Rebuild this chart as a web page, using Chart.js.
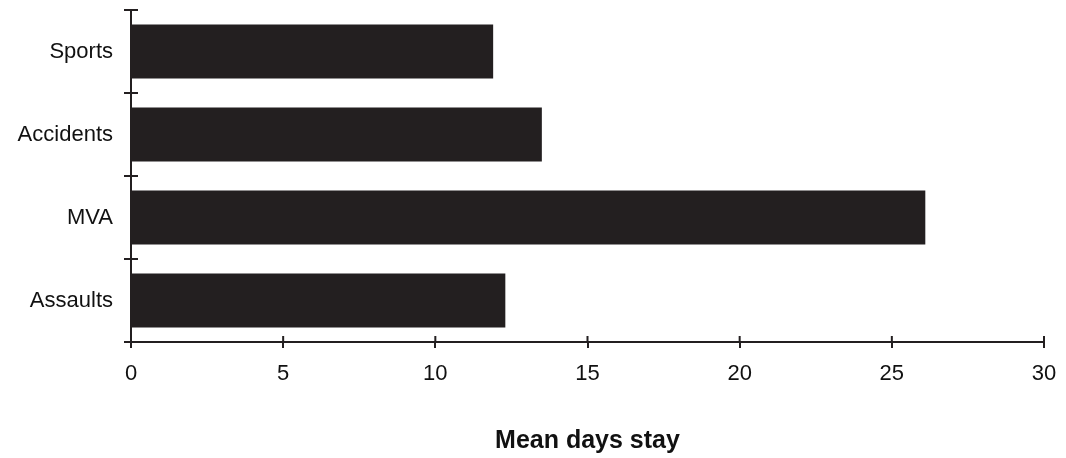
<!DOCTYPE html>
<html lang="en">
<head>
    <meta charset="UTF-8">
    <title>Mean days stay</title>
    <style>
        body {
            margin: 0;
            padding: 0;
            background: #ffffff;
        }
        .chart-box {
            width: 1066px;
            height: 458px;
        }
    </style>
    <script src="https://cdn.jsdelivr.net/npm/chart.js"></script>
</head>
<body>
    <div class="chart-box">
        <canvas id="stayChart"></canvas>
    </div>

    <script>
        // data
        const categories = ['Sports', 'Accidents', 'MVA', 'Assaults'];
        const meanDays = [11.9, 13.5, 26.1, 12.3];
        const xTicks = [0, 5, 10, 15, 20, 25, 30];

        const ink = '#231f20';
        const fontFam = 'Liberation Sans, Arial, sans-serif';

        // ticks in the original cross the axis line, so draw the inner half too
        const crossTicks = {
            id: 'crossTicks',
            afterDraw(chart) {
                const ctx = chart.ctx;
                const x = chart.scales.x;
                const y = chart.scales.y;
                ctx.save();
                ctx.strokeStyle = ink;
                ctx.lineWidth = 2;
                ctx.beginPath();
                xTicks.forEach(v => {
                    const px = x.getPixelForValue(v);
                    ctx.moveTo(px, x.top);
                    ctx.lineTo(px, x.top - 6);
                });
                for (let i = 0; i <= categories.length; i++) {
                    const py = y.getPixelForValue(i - 0.5);
                    ctx.moveTo(y.right, py);
                    ctx.lineTo(y.right + 7, py);
                }
                ctx.stroke();
                ctx.restore();
            }
        };

        const ctx = document.getElementById('stayChart').getContext('2d');
        new Chart(ctx, {
            type: 'bar',
            data: {
                labels: categories,
                datasets: [{
                    data: meanDays,
                    backgroundColor: ink,
                    borderWidth: 0,
                    barPercentage: 0.8,
                    categoryPercentage: 0.81
                }]
            },
            options: {
                indexAxis: 'y',
                responsive: true,
                maintainAspectRatio: false,
                animation: false,
                layout: {
                    padding: { top: 10, right: 22, left: 0, bottom: 0 }
                },
                plugins: {
                    legend: { display: false },
                    tooltip: { enabled: false }
                },
                scales: {
                    x: {
                        min: 0,
                        max: 30,
                        afterBuildTicks: (scale) => {
                            scale.ticks = xTicks.map(v => ({ value: v }));
                        },
                        afterFit: (scale) => {
                            scale.height = 116;
                            scale.paddingLeft = 0;
                            scale.paddingRight = 0;
                        },
                        grid: {
                            drawOnChartArea: false,
                            color: ink,
                            lineWidth: 2,
                            tickLength: 6
                        },
                        border: { color: ink, width: 2 },
                        ticks: {
                            color: '#111',
                            padding: 13,
                            maxRotation: 0,
                            font: { family: fontFam, size: 22 }
                        },
                        title: {
                            display: true,
                            text: 'Mean days stay',
                            color: '#111',
                            padding: { top: 0, bottom: 2 },
                            font: { family: fontFam, size: 25, weight: 'bold' }
                        }
                    },
                    y: {
                        afterFit: (scale) => {
                            scale.width = 131;
                            scale.paddingTop = 0;
                            scale.paddingBottom = 0;
                        },
                        grid: {
                            drawOnChartArea: false,
                            color: ink,
                            lineWidth: 2,
                            tickLength: 7,
                            offset: true
                        },
                        border: { color: ink, width: 2 },
                        ticks: {
                            color: '#111',
                            padding: 11,
                            font: { family: fontFam, size: 22 }
                        }
                    }
                }
            },
            plugins: [crossTicks]
        });
    </script>
</body>
</html>
